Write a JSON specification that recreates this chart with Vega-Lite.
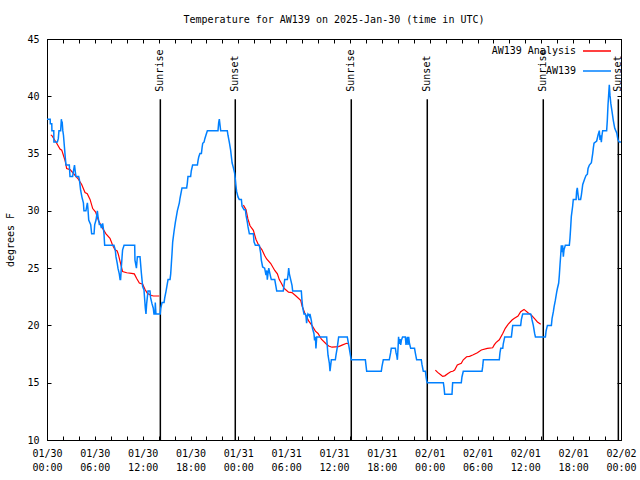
{
  "$schema": "https://vega.github.io/schema/vega-lite/v6.json",
  "width": 574,
  "height": 401,
  "autosize": {"type": "none"},
  "padding": {"left": 47, "top": 39, "right": 19, "bottom": 40},
  "background": "white",
  "title": {"text": "Temperature for AW139 on 2025-Jan-30 (time in UTC)", "font": "DejaVu Sans Mono", "fontSize": 10, "fontWeight": "normal", "color": "black", "anchor": "middle", "baseline": "bottom", "offset": -1},
  "config": {
    "view": {"stroke": "black", "strokeWidth": 1},
    "font": "DejaVu Sans Mono",
    "axis": {"grid": false, "domainColor": "black", "tickColor": "black", "labelColor": "black", "titleColor": "black", "labelFont": "DejaVu Sans Mono", "labelFontSize": 10, "titleFont": "DejaVu Sans Mono", "titleFontSize": 10, "titleFontWeight": "normal", "tickSize": -4, "tickWidth": 1, "domainWidth": 1}
  },
  "datasets": {
    "sun": [
      {"time": "2025-01-30T14:13:00Z", "event": "Sunrise"},
      {"time": "2025-01-30T23:37:00Z", "event": "Sunset"},
      {"time": "2025-01-31T14:10:00Z", "event": "Sunrise"},
      {"time": "2025-01-31T23:42:00Z", "event": "Sunset"},
      {"time": "2025-02-01T14:15:00Z", "event": "Sunrise"},
      {"time": "2025-02-01T23:40:00Z", "event": "Sunset"}
    ],
    "ticks2h": [
      {"time": "2025-01-30T00:00:00Z"}
    ],
    "analysis": [
      {"time": "2025-01-30T00:28:00Z", "temp": 36.6, "seg": 1},
      {"time": "2025-01-30T00:35:00Z", "temp": 36.6, "seg": 1},
      {"time": "2025-01-30T01:13:00Z", "temp": 35.9, "seg": 1},
      {"time": "2025-01-30T01:38:00Z", "temp": 35.4, "seg": 1},
      {"time": "2025-01-30T01:51:00Z", "temp": 35.3, "seg": 1},
      {"time": "2025-01-30T02:16:00Z", "temp": 34.4, "seg": 1},
      {"time": "2025-01-30T02:28:00Z", "temp": 33.7, "seg": 1},
      {"time": "2025-01-30T02:54:00Z", "temp": 33.6, "seg": 1},
      {"time": "2025-01-30T03:31:00Z", "temp": 33.1, "seg": 1},
      {"time": "2025-01-30T03:54:00Z", "temp": 32.8, "seg": 1},
      {"time": "2025-01-30T04:21:00Z", "temp": 32.3, "seg": 1},
      {"time": "2025-01-30T04:46:00Z", "temp": 31.6, "seg": 1},
      {"time": "2025-01-30T05:03:00Z", "temp": 31.5, "seg": 1},
      {"time": "2025-01-30T05:24:00Z", "temp": 31.0, "seg": 1},
      {"time": "2025-01-30T05:44:00Z", "temp": 30.2, "seg": 1},
      {"time": "2025-01-30T06:06:00Z", "temp": 29.9, "seg": 1},
      {"time": "2025-01-30T06:26:00Z", "temp": 29.2, "seg": 1},
      {"time": "2025-01-30T06:52:00Z", "temp": 28.6, "seg": 1},
      {"time": "2025-01-30T07:24:00Z", "temp": 28.0, "seg": 1},
      {"time": "2025-01-30T07:54:00Z", "temp": 27.6, "seg": 1},
      {"time": "2025-01-30T08:14:00Z", "temp": 27.0, "seg": 1},
      {"time": "2025-01-30T08:32:00Z", "temp": 26.6, "seg": 1},
      {"time": "2025-01-30T08:48:00Z", "temp": 26.5, "seg": 1},
      {"time": "2025-01-30T08:57:00Z", "temp": 26.2, "seg": 1},
      {"time": "2025-01-30T09:14:00Z", "temp": 25.4, "seg": 1},
      {"time": "2025-01-30T09:29:00Z", "temp": 24.7, "seg": 1},
      {"time": "2025-01-30T10:00:00Z", "temp": 24.6, "seg": 1},
      {"time": "2025-01-30T10:36:00Z", "temp": 24.55, "seg": 1},
      {"time": "2025-01-30T10:57:00Z", "temp": 24.5, "seg": 1},
      {"time": "2025-01-30T11:15:00Z", "temp": 24.1, "seg": 1},
      {"time": "2025-01-30T11:35:00Z", "temp": 23.7, "seg": 1},
      {"time": "2025-01-30T12:00:00Z", "temp": 23.6, "seg": 1},
      {"time": "2025-01-30T12:17:00Z", "temp": 23.15, "seg": 1},
      {"time": "2025-01-30T12:35:00Z", "temp": 22.8, "seg": 1},
      {"time": "2025-01-30T12:57:00Z", "temp": 22.65, "seg": 1},
      {"time": "2025-01-30T13:20:00Z", "temp": 22.57, "seg": 1},
      {"time": "2025-01-30T14:05:00Z", "temp": 22.57, "seg": 1},
      {"time": "2025-01-31T00:38:00Z", "temp": 30.5, "seg": 2},
      {"time": "2025-01-31T00:58:00Z", "temp": 30.1, "seg": 2},
      {"time": "2025-01-31T01:12:00Z", "temp": 29.3, "seg": 2},
      {"time": "2025-01-31T01:28:00Z", "temp": 28.7, "seg": 2},
      {"time": "2025-01-31T01:53:00Z", "temp": 28.3, "seg": 2},
      {"time": "2025-01-31T02:13:00Z", "temp": 27.5, "seg": 2},
      {"time": "2025-01-31T02:33:00Z", "temp": 27.0, "seg": 2},
      {"time": "2025-01-31T02:58:00Z", "temp": 26.6, "seg": 2},
      {"time": "2025-01-31T03:18:00Z", "temp": 26.1, "seg": 2},
      {"time": "2025-01-31T03:33:00Z", "temp": 25.8, "seg": 2},
      {"time": "2025-01-31T04:04:00Z", "temp": 25.4, "seg": 2},
      {"time": "2025-01-31T04:34:00Z", "temp": 24.8, "seg": 2},
      {"time": "2025-01-31T04:54:00Z", "temp": 24.5, "seg": 2},
      {"time": "2025-01-31T05:08:00Z", "temp": 24.0, "seg": 2},
      {"time": "2025-01-31T05:23:00Z", "temp": 23.7, "seg": 2},
      {"time": "2025-01-31T05:44:00Z", "temp": 23.24, "seg": 2},
      {"time": "2025-01-31T06:18:00Z", "temp": 22.9, "seg": 2},
      {"time": "2025-01-31T06:44:00Z", "temp": 22.86, "seg": 2},
      {"time": "2025-01-31T07:14:00Z", "temp": 22.57, "seg": 2},
      {"time": "2025-01-31T07:49:00Z", "temp": 22.2, "seg": 2},
      {"time": "2025-01-31T08:00:00Z", "temp": 21.7, "seg": 2},
      {"time": "2025-01-31T08:19:00Z", "temp": 21.1, "seg": 2},
      {"time": "2025-01-31T08:49:00Z", "temp": 20.4, "seg": 2},
      {"time": "2025-01-31T09:14:00Z", "temp": 20.0, "seg": 2},
      {"time": "2025-01-31T09:40:00Z", "temp": 19.5, "seg": 2},
      {"time": "2025-01-31T10:00:00Z", "temp": 19.3, "seg": 2},
      {"time": "2025-01-31T10:25:00Z", "temp": 18.8, "seg": 2},
      {"time": "2025-01-31T11:00:00Z", "temp": 18.4, "seg": 2},
      {"time": "2025-01-31T11:20:00Z", "temp": 18.2, "seg": 2},
      {"time": "2025-01-31T11:45:00Z", "temp": 18.1, "seg": 2},
      {"time": "2025-01-31T12:35:00Z", "temp": 18.15, "seg": 2},
      {"time": "2025-01-31T13:05:00Z", "temp": 18.3, "seg": 2},
      {"time": "2025-01-31T13:35:00Z", "temp": 18.44, "seg": 2},
      {"time": "2025-01-31T13:50:00Z", "temp": 18.4, "seg": 2},
      {"time": "2025-02-01T00:43:00Z", "temp": 16.1, "seg": 3},
      {"time": "2025-02-01T01:00:00Z", "temp": 15.9, "seg": 3},
      {"time": "2025-02-01T01:23:00Z", "temp": 15.7, "seg": 3},
      {"time": "2025-02-01T01:38:00Z", "temp": 15.55, "seg": 3},
      {"time": "2025-02-01T01:54:00Z", "temp": 15.6, "seg": 3},
      {"time": "2025-02-01T02:18:00Z", "temp": 15.8, "seg": 3},
      {"time": "2025-02-01T02:38:00Z", "temp": 15.96, "seg": 3},
      {"time": "2025-02-01T02:54:00Z", "temp": 16.0, "seg": 3},
      {"time": "2025-02-01T03:08:00Z", "temp": 16.1, "seg": 3},
      {"time": "2025-02-01T03:28:00Z", "temp": 16.55, "seg": 3},
      {"time": "2025-02-01T03:58:00Z", "temp": 16.7, "seg": 3},
      {"time": "2025-02-01T04:13:00Z", "temp": 17.0, "seg": 3},
      {"time": "2025-02-01T04:38:00Z", "temp": 17.27, "seg": 3},
      {"time": "2025-02-01T05:00:00Z", "temp": 17.3, "seg": 3},
      {"time": "2025-02-01T05:24:00Z", "temp": 17.42, "seg": 3},
      {"time": "2025-02-01T05:59:00Z", "temp": 17.62, "seg": 3},
      {"time": "2025-02-01T06:29:00Z", "temp": 17.86, "seg": 3},
      {"time": "2025-02-01T07:14:00Z", "temp": 18.0, "seg": 3},
      {"time": "2025-02-01T07:54:00Z", "temp": 18.05, "seg": 3},
      {"time": "2025-02-01T08:06:00Z", "temp": 18.3, "seg": 3},
      {"time": "2025-02-01T08:19:00Z", "temp": 18.5, "seg": 3},
      {"time": "2025-02-01T08:44:00Z", "temp": 18.75, "seg": 3},
      {"time": "2025-02-01T09:10:00Z", "temp": 19.3, "seg": 3},
      {"time": "2025-02-01T09:29:00Z", "temp": 19.75, "seg": 3},
      {"time": "2025-02-01T09:50:00Z", "temp": 20.1, "seg": 3},
      {"time": "2025-02-01T10:20:00Z", "temp": 20.47, "seg": 3},
      {"time": "2025-02-01T10:35:00Z", "temp": 20.6, "seg": 3},
      {"time": "2025-02-01T11:05:00Z", "temp": 20.82, "seg": 3},
      {"time": "2025-02-01T11:25:00Z", "temp": 21.2, "seg": 3},
      {"time": "2025-02-01T11:50:00Z", "temp": 21.4, "seg": 3},
      {"time": "2025-02-01T12:20:00Z", "temp": 21.1, "seg": 3},
      {"time": "2025-02-01T12:46:00Z", "temp": 20.9, "seg": 3},
      {"time": "2025-02-01T13:16:00Z", "temp": 20.5, "seg": 3},
      {"time": "2025-02-01T13:31:00Z", "temp": 20.3, "seg": 3},
      {"time": "2025-02-01T13:56:00Z", "temp": 20.1, "seg": 3}
    ],
    "observed": [
      {"time": "2025-01-30T00:00:00Z", "temp": 38},
      {"time": "2025-01-30T00:24:00Z", "temp": 38},
      {"time": "2025-01-30T00:25:00Z", "temp": 37.6},
      {"time": "2025-01-30T00:36:00Z", "temp": 37.6},
      {"time": "2025-01-30T00:37:00Z", "temp": 37},
      {"time": "2025-01-30T00:51:00Z", "temp": 37},
      {"time": "2025-01-30T00:52:00Z", "temp": 36},
      {"time": "2025-01-30T01:18:00Z", "temp": 36},
      {"time": "2025-01-30T01:25:00Z", "temp": 36.3},
      {"time": "2025-01-30T01:30:00Z", "temp": 37},
      {"time": "2025-01-30T01:43:00Z", "temp": 37},
      {"time": "2025-01-30T01:48:00Z", "temp": 38},
      {"time": "2025-01-30T01:52:00Z", "temp": 37.6},
      {"time": "2025-01-30T01:54:00Z", "temp": 37.8},
      {"time": "2025-01-30T01:59:00Z", "temp": 37},
      {"time": "2025-01-30T02:04:00Z", "temp": 36.6},
      {"time": "2025-01-30T02:11:00Z", "temp": 35.6},
      {"time": "2025-01-30T02:18:00Z", "temp": 34.6},
      {"time": "2025-01-30T02:23:00Z", "temp": 34},
      {"time": "2025-01-30T02:48:00Z", "temp": 34},
      {"time": "2025-01-30T02:53:00Z", "temp": 33},
      {"time": "2025-01-30T03:13:00Z", "temp": 33},
      {"time": "2025-01-30T03:18:00Z", "temp": 33.4},
      {"time": "2025-01-30T03:27:00Z", "temp": 34},
      {"time": "2025-01-30T03:33:00Z", "temp": 33.4},
      {"time": "2025-01-30T03:38:00Z", "temp": 33},
      {"time": "2025-01-30T03:58:00Z", "temp": 33},
      {"time": "2025-01-30T04:04:00Z", "temp": 32.7},
      {"time": "2025-01-30T04:13:00Z", "temp": 31.8},
      {"time": "2025-01-30T04:23:00Z", "temp": 31.2},
      {"time": "2025-01-30T04:34:00Z", "temp": 30.7},
      {"time": "2025-01-30T04:38:00Z", "temp": 30},
      {"time": "2025-01-30T04:53:00Z", "temp": 30},
      {"time": "2025-01-30T04:59:00Z", "temp": 30.4},
      {"time": "2025-01-30T05:04:00Z", "temp": 30.7},
      {"time": "2025-01-30T05:08:00Z", "temp": 30.2},
      {"time": "2025-01-30T05:14:00Z", "temp": 29.2},
      {"time": "2025-01-30T05:29:00Z", "temp": 28.8},
      {"time": "2025-01-30T05:36:00Z", "temp": 28},
      {"time": "2025-01-30T05:54:00Z", "temp": 28},
      {"time": "2025-01-30T05:59:00Z", "temp": 28.8},
      {"time": "2025-01-30T06:09:00Z", "temp": 29.2},
      {"time": "2025-01-30T06:19:00Z", "temp": 30},
      {"time": "2025-01-30T06:24:00Z", "temp": 29.5},
      {"time": "2025-01-30T06:34:00Z", "temp": 28.8},
      {"time": "2025-01-30T06:44:00Z", "temp": 28.8},
      {"time": "2025-01-30T06:49:00Z", "temp": 28.5},
      {"time": "2025-01-30T06:59:00Z", "temp": 28.9},
      {"time": "2025-01-30T07:06:00Z", "temp": 28.3},
      {"time": "2025-01-30T07:09:00Z", "temp": 28},
      {"time": "2025-01-30T07:14:00Z", "temp": 27},
      {"time": "2025-01-30T08:24:00Z", "temp": 27},
      {"time": "2025-01-30T08:34:00Z", "temp": 26.6},
      {"time": "2025-01-30T08:39:00Z", "temp": 26},
      {"time": "2025-01-30T08:49:00Z", "temp": 25.4},
      {"time": "2025-01-30T08:54:00Z", "temp": 25},
      {"time": "2025-01-30T09:04:00Z", "temp": 24.5},
      {"time": "2025-01-30T09:10:00Z", "temp": 24},
      {"time": "2025-01-30T09:14:00Z", "temp": 24},
      {"time": "2025-01-30T09:19:00Z", "temp": 25},
      {"time": "2025-01-30T09:25:00Z", "temp": 26},
      {"time": "2025-01-30T09:29:00Z", "temp": 26.6},
      {"time": "2025-01-30T09:40:00Z", "temp": 27},
      {"time": "2025-01-30T11:00:00Z", "temp": 27},
      {"time": "2025-01-30T11:02:00Z", "temp": 25.7},
      {"time": "2025-01-30T11:13:00Z", "temp": 25},
      {"time": "2025-01-30T11:20:00Z", "temp": 26},
      {"time": "2025-01-30T11:40:00Z", "temp": 26},
      {"time": "2025-01-30T11:50:00Z", "temp": 24.6},
      {"time": "2025-01-30T12:00:00Z", "temp": 23.4},
      {"time": "2025-01-30T12:10:00Z", "temp": 23.1},
      {"time": "2025-01-30T12:20:00Z", "temp": 21.5},
      {"time": "2025-01-30T12:25:00Z", "temp": 21},
      {"time": "2025-01-30T12:30:00Z", "temp": 21.9},
      {"time": "2025-01-30T12:40:00Z", "temp": 23},
      {"time": "2025-01-30T12:55:00Z", "temp": 23},
      {"time": "2025-01-30T13:00:00Z", "temp": 22.4},
      {"time": "2025-01-30T13:10:00Z", "temp": 21.9},
      {"time": "2025-01-30T13:20:00Z", "temp": 21.5},
      {"time": "2025-01-30T13:25:00Z", "temp": 21},
      {"time": "2025-01-30T13:33:00Z", "temp": 21},
      {"time": "2025-01-30T13:35:00Z", "temp": 22},
      {"time": "2025-01-30T13:40:00Z", "temp": 21},
      {"time": "2025-01-30T14:12:00Z", "temp": 21},
      {"time": "2025-01-30T14:16:00Z", "temp": 21.5},
      {"time": "2025-01-30T14:26:00Z", "temp": 22},
      {"time": "2025-01-30T14:41:00Z", "temp": 22},
      {"time": "2025-01-30T14:46:00Z", "temp": 22.4},
      {"time": "2025-01-30T14:56:00Z", "temp": 23},
      {"time": "2025-01-30T15:05:00Z", "temp": 23.6},
      {"time": "2025-01-30T15:11:00Z", "temp": 24},
      {"time": "2025-01-30T15:26:00Z", "temp": 24},
      {"time": "2025-01-30T15:31:00Z", "temp": 24.5},
      {"time": "2025-01-30T15:36:00Z", "temp": 25.4},
      {"time": "2025-01-30T15:41:00Z", "temp": 26.3},
      {"time": "2025-01-30T15:46:00Z", "temp": 27.3},
      {"time": "2025-01-30T15:56:00Z", "temp": 28.2},
      {"time": "2025-01-30T16:06:00Z", "temp": 29},
      {"time": "2025-01-30T16:21:00Z", "temp": 30},
      {"time": "2025-01-30T16:36:00Z", "temp": 30.7},
      {"time": "2025-01-30T16:41:00Z", "temp": 31.1},
      {"time": "2025-01-30T16:51:00Z", "temp": 31.7},
      {"time": "2025-01-30T16:56:00Z", "temp": 32},
      {"time": "2025-01-30T17:31:00Z", "temp": 32},
      {"time": "2025-01-30T17:36:00Z", "temp": 32.4},
      {"time": "2025-01-30T17:41:00Z", "temp": 33},
      {"time": "2025-01-30T18:01:00Z", "temp": 33},
      {"time": "2025-01-30T18:06:00Z", "temp": 33.5},
      {"time": "2025-01-30T18:16:00Z", "temp": 34},
      {"time": "2025-01-30T18:52:00Z", "temp": 34},
      {"time": "2025-01-30T18:57:00Z", "temp": 34.4},
      {"time": "2025-01-30T19:02:00Z", "temp": 34.7},
      {"time": "2025-01-30T19:11:00Z", "temp": 35},
      {"time": "2025-01-30T19:22:00Z", "temp": 35},
      {"time": "2025-01-30T19:27:00Z", "temp": 35.5},
      {"time": "2025-01-30T19:32:00Z", "temp": 35.9},
      {"time": "2025-01-30T19:42:00Z", "temp": 36},
      {"time": "2025-01-30T19:48:00Z", "temp": 36.3},
      {"time": "2025-01-30T19:56:00Z", "temp": 36.6},
      {"time": "2025-01-30T20:07:00Z", "temp": 37},
      {"time": "2025-01-30T21:27:00Z", "temp": 37},
      {"time": "2025-01-30T21:32:00Z", "temp": 37.7},
      {"time": "2025-01-30T21:37:00Z", "temp": 38},
      {"time": "2025-01-30T21:42:00Z", "temp": 37.5},
      {"time": "2025-01-30T21:47:00Z", "temp": 37},
      {"time": "2025-01-30T22:37:00Z", "temp": 37},
      {"time": "2025-01-30T22:42:00Z", "temp": 36.6},
      {"time": "2025-01-30T22:52:00Z", "temp": 36},
      {"time": "2025-01-30T23:02:00Z", "temp": 35.3},
      {"time": "2025-01-30T23:13:00Z", "temp": 34.2},
      {"time": "2025-01-30T23:22:00Z", "temp": 33.8},
      {"time": "2025-01-30T23:32:00Z", "temp": 33.3},
      {"time": "2025-01-30T23:37:00Z", "temp": 32.8},
      {"time": "2025-01-30T23:42:00Z", "temp": 32.2},
      {"time": "2025-01-30T23:47:00Z", "temp": 31.7},
      {"time": "2025-01-30T23:58:00Z", "temp": 31.2},
      {"time": "2025-01-31T00:07:00Z", "temp": 31},
      {"time": "2025-01-31T00:23:00Z", "temp": 31},
      {"time": "2025-01-31T00:28:00Z", "temp": 30.4},
      {"time": "2025-01-31T00:43:00Z", "temp": 30.1},
      {"time": "2025-01-31T00:53:00Z", "temp": 30.1},
      {"time": "2025-01-31T00:58:00Z", "temp": 29.6},
      {"time": "2025-01-31T01:08:00Z", "temp": 29},
      {"time": "2025-01-31T01:13:00Z", "temp": 28.6},
      {"time": "2025-01-31T01:23:00Z", "temp": 28},
      {"time": "2025-01-31T01:53:00Z", "temp": 28},
      {"time": "2025-01-31T01:58:00Z", "temp": 27.3},
      {"time": "2025-01-31T02:08:00Z", "temp": 27},
      {"time": "2025-01-31T02:38:00Z", "temp": 27},
      {"time": "2025-01-31T02:48:00Z", "temp": 26.3},
      {"time": "2025-01-31T02:53:00Z", "temp": 25.7},
      {"time": "2025-01-31T03:03:00Z", "temp": 25.1},
      {"time": "2025-01-31T03:18:00Z", "temp": 25},
      {"time": "2025-01-31T03:28:00Z", "temp": 24.4},
      {"time": "2025-01-31T03:34:00Z", "temp": 24.8},
      {"time": "2025-01-31T03:38:00Z", "temp": 24},
      {"time": "2025-01-31T03:43:00Z", "temp": 24.5},
      {"time": "2025-01-31T03:49:00Z", "temp": 25},
      {"time": "2025-01-31T03:58:00Z", "temp": 24.5},
      {"time": "2025-01-31T04:08:00Z", "temp": 24},
      {"time": "2025-01-31T04:34:00Z", "temp": 24},
      {"time": "2025-01-31T04:43:00Z", "temp": 23.4},
      {"time": "2025-01-31T04:49:00Z", "temp": 23},
      {"time": "2025-01-31T05:38:00Z", "temp": 23},
      {"time": "2025-01-31T05:44:00Z", "temp": 23.5},
      {"time": "2025-01-31T05:49:00Z", "temp": 24},
      {"time": "2025-01-31T06:09:00Z", "temp": 24},
      {"time": "2025-01-31T06:14:00Z", "temp": 24.4},
      {"time": "2025-01-31T06:19:00Z", "temp": 25},
      {"time": "2025-01-31T06:24:00Z", "temp": 24.5},
      {"time": "2025-01-31T06:34:00Z", "temp": 24},
      {"time": "2025-01-31T06:44:00Z", "temp": 23.5},
      {"time": "2025-01-31T06:49:00Z", "temp": 23},
      {"time": "2025-01-31T07:54:00Z", "temp": 23},
      {"time": "2025-01-31T07:59:00Z", "temp": 22.2},
      {"time": "2025-01-31T08:04:00Z", "temp": 21.6},
      {"time": "2025-01-31T08:14:00Z", "temp": 21},
      {"time": "2025-01-31T08:24:00Z", "temp": 21},
      {"time": "2025-01-31T08:29:00Z", "temp": 20.8},
      {"time": "2025-01-31T08:34:00Z", "temp": 20.2},
      {"time": "2025-01-31T08:39:00Z", "temp": 20.8},
      {"time": "2025-01-31T08:44:00Z", "temp": 21},
      {"time": "2025-01-31T08:55:00Z", "temp": 20.8},
      {"time": "2025-01-31T08:59:00Z", "temp": 21},
      {"time": "2025-01-31T09:10:00Z", "temp": 20.4},
      {"time": "2025-01-31T09:14:00Z", "temp": 20},
      {"time": "2025-01-31T09:19:00Z", "temp": 19.7},
      {"time": "2025-01-31T09:29:00Z", "temp": 19.3},
      {"time": "2025-01-31T09:34:00Z", "temp": 18.7},
      {"time": "2025-01-31T09:40:00Z", "temp": 19},
      {"time": "2025-01-31T09:44:00Z", "temp": 18},
      {"time": "2025-01-31T09:50:00Z", "temp": 19},
      {"time": "2025-01-31T11:05:00Z", "temp": 19},
      {"time": "2025-01-31T11:10:00Z", "temp": 18.1},
      {"time": "2025-01-31T11:15:00Z", "temp": 17.4},
      {"time": "2025-01-31T11:25:00Z", "temp": 16.7},
      {"time": "2025-01-31T11:30:00Z", "temp": 16},
      {"time": "2025-01-31T11:35:00Z", "temp": 16.5},
      {"time": "2025-01-31T11:40:00Z", "temp": 17},
      {"time": "2025-01-31T12:10:00Z", "temp": 17},
      {"time": "2025-01-31T12:15:00Z", "temp": 17.4},
      {"time": "2025-01-31T12:25:00Z", "temp": 18.1},
      {"time": "2025-01-31T12:35:00Z", "temp": 19},
      {"time": "2025-01-31T13:40:00Z", "temp": 19},
      {"time": "2025-01-31T13:46:00Z", "temp": 18.6},
      {"time": "2025-01-31T13:55:00Z", "temp": 18},
      {"time": "2025-01-31T14:05:00Z", "temp": 17.3},
      {"time": "2025-01-31T14:10:00Z", "temp": 17},
      {"time": "2025-01-31T15:56:00Z", "temp": 17},
      {"time": "2025-01-31T16:06:00Z", "temp": 16},
      {"time": "2025-01-31T17:56:00Z", "temp": 16},
      {"time": "2025-01-31T18:01:00Z", "temp": 16.4},
      {"time": "2025-01-31T18:11:00Z", "temp": 17},
      {"time": "2025-01-31T18:56:00Z", "temp": 17},
      {"time": "2025-01-31T19:06:00Z", "temp": 17.6},
      {"time": "2025-01-31T19:11:00Z", "temp": 18},
      {"time": "2025-01-31T19:42:00Z", "temp": 18},
      {"time": "2025-01-31T19:47:00Z", "temp": 17.6},
      {"time": "2025-01-31T19:52:00Z", "temp": 17.4},
      {"time": "2025-01-31T19:57:00Z", "temp": 17},
      {"time": "2025-01-31T20:02:00Z", "temp": 18},
      {"time": "2025-01-31T20:06:00Z", "temp": 19},
      {"time": "2025-01-31T20:11:00Z", "temp": 18.4},
      {"time": "2025-01-31T20:17:00Z", "temp": 18.8},
      {"time": "2025-01-31T20:22:00Z", "temp": 18.3},
      {"time": "2025-01-31T20:27:00Z", "temp": 18.7},
      {"time": "2025-01-31T20:36:00Z", "temp": 19},
      {"time": "2025-01-31T20:57:00Z", "temp": 19},
      {"time": "2025-01-31T21:02:00Z", "temp": 18.3},
      {"time": "2025-01-31T21:07:00Z", "temp": 18.7},
      {"time": "2025-01-31T21:12:00Z", "temp": 19},
      {"time": "2025-01-31T21:17:00Z", "temp": 18.3},
      {"time": "2025-01-31T21:22:00Z", "temp": 19},
      {"time": "2025-01-31T21:27:00Z", "temp": 18.5},
      {"time": "2025-01-31T21:37:00Z", "temp": 18},
      {"time": "2025-01-31T22:06:00Z", "temp": 18},
      {"time": "2025-01-31T22:12:00Z", "temp": 17.6},
      {"time": "2025-01-31T22:22:00Z", "temp": 17},
      {"time": "2025-01-31T22:57:00Z", "temp": 17},
      {"time": "2025-01-31T23:02:00Z", "temp": 16.6},
      {"time": "2025-01-31T23:12:00Z", "temp": 16},
      {"time": "2025-01-31T23:28:00Z", "temp": 16},
      {"time": "2025-01-31T23:32:00Z", "temp": 15.6},
      {"time": "2025-01-31T23:37:00Z", "temp": 15.2},
      {"time": "2025-01-31T23:42:00Z", "temp": 15},
      {"time": "2025-02-01T01:43:00Z", "temp": 15},
      {"time": "2025-02-01T01:48:00Z", "temp": 14.6},
      {"time": "2025-02-01T01:53:00Z", "temp": 14},
      {"time": "2025-02-01T02:48:00Z", "temp": 14},
      {"time": "2025-02-01T02:53:00Z", "temp": 15},
      {"time": "2025-02-01T03:58:00Z", "temp": 15},
      {"time": "2025-02-01T04:03:00Z", "temp": 15.5},
      {"time": "2025-02-01T04:13:00Z", "temp": 16},
      {"time": "2025-02-01T06:34:00Z", "temp": 16},
      {"time": "2025-02-01T06:39:00Z", "temp": 16.4},
      {"time": "2025-02-01T06:44:00Z", "temp": 17},
      {"time": "2025-02-01T08:44:00Z", "temp": 17},
      {"time": "2025-02-01T08:49:00Z", "temp": 17.6},
      {"time": "2025-02-01T08:55:00Z", "temp": 18},
      {"time": "2025-02-01T09:10:00Z", "temp": 18},
      {"time": "2025-02-01T09:14:00Z", "temp": 18.4},
      {"time": "2025-02-01T09:25:00Z", "temp": 19},
      {"time": "2025-02-01T10:15:00Z", "temp": 19},
      {"time": "2025-02-01T10:20:00Z", "temp": 19.5},
      {"time": "2025-02-01T10:25:00Z", "temp": 20},
      {"time": "2025-02-01T11:25:00Z", "temp": 20},
      {"time": "2025-02-01T11:30:00Z", "temp": 20.5},
      {"time": "2025-02-01T11:40:00Z", "temp": 21},
      {"time": "2025-02-01T12:40:00Z", "temp": 21},
      {"time": "2025-02-01T12:46:00Z", "temp": 20.8},
      {"time": "2025-02-01T12:50:00Z", "temp": 20.5},
      {"time": "2025-02-01T13:00:00Z", "temp": 20},
      {"time": "2025-02-01T13:10:00Z", "temp": 19.3},
      {"time": "2025-02-01T13:16:00Z", "temp": 19},
      {"time": "2025-02-01T14:31:00Z", "temp": 19},
      {"time": "2025-02-01T14:36:00Z", "temp": 19.5},
      {"time": "2025-02-01T14:46:00Z", "temp": 20},
      {"time": "2025-02-01T15:16:00Z", "temp": 20},
      {"time": "2025-02-01T15:21:00Z", "temp": 20.6},
      {"time": "2025-02-01T15:31:00Z", "temp": 21.2},
      {"time": "2025-02-01T15:36:00Z", "temp": 21.6},
      {"time": "2025-02-01T15:46:00Z", "temp": 22.2},
      {"time": "2025-02-01T15:56:00Z", "temp": 22.9},
      {"time": "2025-02-01T16:01:00Z", "temp": 23.2},
      {"time": "2025-02-01T16:11:00Z", "temp": 23.7},
      {"time": "2025-02-01T16:16:00Z", "temp": 24.4},
      {"time": "2025-02-01T16:21:00Z", "temp": 25.3},
      {"time": "2025-02-01T16:26:00Z", "temp": 26.1},
      {"time": "2025-02-01T16:31:00Z", "temp": 27},
      {"time": "2025-02-01T16:36:00Z", "temp": 26.4},
      {"time": "2025-02-01T16:41:00Z", "temp": 27},
      {"time": "2025-02-01T16:46:00Z", "temp": 26},
      {"time": "2025-02-01T16:51:00Z", "temp": 26.6},
      {"time": "2025-02-01T17:01:00Z", "temp": 27},
      {"time": "2025-02-01T17:31:00Z", "temp": 27},
      {"time": "2025-02-01T17:36:00Z", "temp": 27.6},
      {"time": "2025-02-01T17:41:00Z", "temp": 28.5},
      {"time": "2025-02-01T17:46:00Z", "temp": 29.5},
      {"time": "2025-02-01T17:56:00Z", "temp": 30.4},
      {"time": "2025-02-01T18:01:00Z", "temp": 31},
      {"time": "2025-02-01T18:22:00Z", "temp": 31},
      {"time": "2025-02-01T18:26:00Z", "temp": 31.7},
      {"time": "2025-02-01T18:31:00Z", "temp": 32},
      {"time": "2025-02-01T18:37:00Z", "temp": 31.4},
      {"time": "2025-02-01T18:42:00Z", "temp": 31},
      {"time": "2025-02-01T18:56:00Z", "temp": 31},
      {"time": "2025-02-01T19:02:00Z", "temp": 31.4},
      {"time": "2025-02-01T19:12:00Z", "temp": 32.3},
      {"time": "2025-02-01T19:27:00Z", "temp": 32.8},
      {"time": "2025-02-01T19:37:00Z", "temp": 33.1},
      {"time": "2025-02-01T19:47:00Z", "temp": 33.2},
      {"time": "2025-02-01T19:52:00Z", "temp": 33.7},
      {"time": "2025-02-01T20:02:00Z", "temp": 34},
      {"time": "2025-02-01T20:17:00Z", "temp": 34.2},
      {"time": "2025-02-01T20:22:00Z", "temp": 34.6},
      {"time": "2025-02-01T20:27:00Z", "temp": 35},
      {"time": "2025-02-01T20:32:00Z", "temp": 35.5},
      {"time": "2025-02-01T20:37:00Z", "temp": 35.9},
      {"time": "2025-02-01T20:57:00Z", "temp": 36.1},
      {"time": "2025-02-01T21:07:00Z", "temp": 36.6},
      {"time": "2025-02-01T21:17:00Z", "temp": 37},
      {"time": "2025-02-01T21:22:00Z", "temp": 36.2},
      {"time": "2025-02-01T21:27:00Z", "temp": 36.6},
      {"time": "2025-02-01T21:32:00Z", "temp": 36},
      {"time": "2025-02-01T21:37:00Z", "temp": 36.6},
      {"time": "2025-02-01T21:42:00Z", "temp": 37},
      {"time": "2025-02-01T22:12:00Z", "temp": 37},
      {"time": "2025-02-01T22:17:00Z", "temp": 37.9},
      {"time": "2025-02-01T22:22:00Z", "temp": 39.2},
      {"time": "2025-02-01T22:27:00Z", "temp": 40.1},
      {"time": "2025-02-01T22:32:00Z", "temp": 41},
      {"time": "2025-02-01T22:37:00Z", "temp": 40.1},
      {"time": "2025-02-01T22:43:00Z", "temp": 39.4},
      {"time": "2025-02-01T22:52:00Z", "temp": 38.7},
      {"time": "2025-02-01T23:02:00Z", "temp": 37.9},
      {"time": "2025-02-01T23:13:00Z", "temp": 37.2},
      {"time": "2025-02-01T23:28:00Z", "temp": 36.8},
      {"time": "2025-02-01T23:37:00Z", "temp": 36.2},
      {"time": "2025-02-01T23:47:00Z", "temp": 36},
      {"time": "2025-02-02T00:00:00Z", "temp": 36}
    ]
  },
  "layer": [
    {
      "data": {"name": "sun"},
      "mark": {"type": "rule", "color": "black", "strokeWidth": 1.5},
      "encoding": {
        "x": {"field": "time", "type": "temporal", "scale": {"type": "utc", "domain": [{"year": 2025, "month": 1, "date": 30, "utc": true}, {"year": 2025, "month": 2, "date": 2, "utc": true}]}, "axis": {"title": null, "tickCount": 40, "values": [
          {"year": 2025, "month": 1, "date": 30, "hours": 0, "utc": true},
          {"year": 2025, "month": 1, "date": 30, "hours": 2, "utc": true},
          {"year": 2025, "month": 1, "date": 30, "hours": 4, "utc": true},
          {"year": 2025, "month": 1, "date": 30, "hours": 6, "utc": true},
          {"year": 2025, "month": 1, "date": 30, "hours": 8, "utc": true},
          {"year": 2025, "month": 1, "date": 30, "hours": 10, "utc": true},
          {"year": 2025, "month": 1, "date": 30, "hours": 12, "utc": true},
          {"year": 2025, "month": 1, "date": 30, "hours": 14, "utc": true},
          {"year": 2025, "month": 1, "date": 30, "hours": 16, "utc": true},
          {"year": 2025, "month": 1, "date": 30, "hours": 18, "utc": true},
          {"year": 2025, "month": 1, "date": 30, "hours": 20, "utc": true},
          {"year": 2025, "month": 1, "date": 30, "hours": 22, "utc": true},
          {"year": 2025, "month": 1, "date": 31, "hours": 0, "utc": true},
          {"year": 2025, "month": 1, "date": 31, "hours": 2, "utc": true},
          {"year": 2025, "month": 1, "date": 31, "hours": 4, "utc": true},
          {"year": 2025, "month": 1, "date": 31, "hours": 6, "utc": true},
          {"year": 2025, "month": 1, "date": 31, "hours": 8, "utc": true},
          {"year": 2025, "month": 1, "date": 31, "hours": 10, "utc": true},
          {"year": 2025, "month": 1, "date": 31, "hours": 12, "utc": true},
          {"year": 2025, "month": 1, "date": 31, "hours": 14, "utc": true},
          {"year": 2025, "month": 1, "date": 31, "hours": 16, "utc": true},
          {"year": 2025, "month": 1, "date": 31, "hours": 18, "utc": true},
          {"year": 2025, "month": 1, "date": 31, "hours": 20, "utc": true},
          {"year": 2025, "month": 1, "date": 31, "hours": 22, "utc": true},
          {"year": 2025, "month": 2, "date": 1, "hours": 0, "utc": true},
          {"year": 2025, "month": 2, "date": 1, "hours": 2, "utc": true},
          {"year": 2025, "month": 2, "date": 1, "hours": 4, "utc": true},
          {"year": 2025, "month": 2, "date": 1, "hours": 6, "utc": true},
          {"year": 2025, "month": 2, "date": 1, "hours": 8, "utc": true},
          {"year": 2025, "month": 2, "date": 1, "hours": 10, "utc": true},
          {"year": 2025, "month": 2, "date": 1, "hours": 12, "utc": true},
          {"year": 2025, "month": 2, "date": 1, "hours": 14, "utc": true},
          {"year": 2025, "month": 2, "date": 1, "hours": 16, "utc": true},
          {"year": 2025, "month": 2, "date": 1, "hours": 18, "utc": true},
          {"year": 2025, "month": 2, "date": 1, "hours": 20, "utc": true},
          {"year": 2025, "month": 2, "date": 1, "hours": 22, "utc": true},
          {"year": 2025, "month": 2, "date": 2, "hours": 0, "utc": true}
        ], "labelExpr": "utchours(datum.value) % 6 == 0 ? [utcFormat(datum.value, '%m/%d'), utcFormat(datum.value, '%H:%M')] : ''", "labelPadding": 12, "labelFlush": false, "labelOverlap": false, "labelBaseline": "top", "labelLineHeight": 14}},
        "y": {"datum": 39.75, "type": "quantitative", "scale": {"domain": [10, 45], "nice": false, "zero": false}, "axis": {"title": "degrees F", "values": [10, 15, 20, 25, 30, 35, 40, 45], "labelPadding": 12, "titlePadding": 11}},
        "y2": {"datum": 10}
      }
    },
    {
      "data": {"name": "sun"},
      "mark": {"type": "text", "angle": 270, "align": "left", "baseline": "middle", "fontSize": 10, "color": "black"},
      "encoding": {
        "x": {"field": "time", "type": "temporal", "axis": null},
        "y": {"datum": 40.4, "type": "quantitative", "axis": null},
        "text": {"field": "event", "type": "nominal"}
      }
    },
    {
      "data": {"name": "analysis"},
      "mark": {"type": "line", "strokeWidth": 1.2},
      "encoding": {
        "x": {"field": "time", "type": "temporal", "axis": null},
        "y": {"field": "temp", "type": "quantitative", "axis": null},
        "detail": {"field": "seg", "type": "nominal"},
        "color": {"datum": "AW139 Analysis", "scale": {"domain": ["AW139 Analysis", "AW139"], "range": ["#ff0000", "#0080ff"]}, "legend": {"title": null, "orient": "none", "legendX": 535, "legendY": -3, "padding": 0, "symbolType": "stroke", "symbolSize": 784, "symbolStrokeWidth": 1.5, "labelAlign": "right", "labelOffset": -36, "labelFontSize": 10, "labelColor": "black", "labelLimit": 300, "rowPadding": -18}}
      }
    },
    {
      "data": {"name": "observed"},
      "mark": {"type": "line", "strokeWidth": 1.5},
      "encoding": {
        "x": {"field": "time", "type": "temporal", "axis": {"orient": "top", "title": null, "labels": false, "tickCount": 40, "values": [
          {"year": 2025, "month": 1, "date": 30, "hours": 0, "utc": true},
          {"year": 2025, "month": 1, "date": 30, "hours": 2, "utc": true},
          {"year": 2025, "month": 1, "date": 30, "hours": 4, "utc": true},
          {"year": 2025, "month": 1, "date": 30, "hours": 6, "utc": true},
          {"year": 2025, "month": 1, "date": 30, "hours": 8, "utc": true},
          {"year": 2025, "month": 1, "date": 30, "hours": 10, "utc": true},
          {"year": 2025, "month": 1, "date": 30, "hours": 12, "utc": true},
          {"year": 2025, "month": 1, "date": 30, "hours": 14, "utc": true},
          {"year": 2025, "month": 1, "date": 30, "hours": 16, "utc": true},
          {"year": 2025, "month": 1, "date": 30, "hours": 18, "utc": true},
          {"year": 2025, "month": 1, "date": 30, "hours": 20, "utc": true},
          {"year": 2025, "month": 1, "date": 30, "hours": 22, "utc": true},
          {"year": 2025, "month": 1, "date": 31, "hours": 0, "utc": true},
          {"year": 2025, "month": 1, "date": 31, "hours": 2, "utc": true},
          {"year": 2025, "month": 1, "date": 31, "hours": 4, "utc": true},
          {"year": 2025, "month": 1, "date": 31, "hours": 6, "utc": true},
          {"year": 2025, "month": 1, "date": 31, "hours": 8, "utc": true},
          {"year": 2025, "month": 1, "date": 31, "hours": 10, "utc": true},
          {"year": 2025, "month": 1, "date": 31, "hours": 12, "utc": true},
          {"year": 2025, "month": 1, "date": 31, "hours": 14, "utc": true},
          {"year": 2025, "month": 1, "date": 31, "hours": 16, "utc": true},
          {"year": 2025, "month": 1, "date": 31, "hours": 18, "utc": true},
          {"year": 2025, "month": 1, "date": 31, "hours": 20, "utc": true},
          {"year": 2025, "month": 1, "date": 31, "hours": 22, "utc": true},
          {"year": 2025, "month": 2, "date": 1, "hours": 0, "utc": true},
          {"year": 2025, "month": 2, "date": 1, "hours": 2, "utc": true},
          {"year": 2025, "month": 2, "date": 1, "hours": 4, "utc": true},
          {"year": 2025, "month": 2, "date": 1, "hours": 6, "utc": true},
          {"year": 2025, "month": 2, "date": 1, "hours": 8, "utc": true},
          {"year": 2025, "month": 2, "date": 1, "hours": 10, "utc": true},
          {"year": 2025, "month": 2, "date": 1, "hours": 12, "utc": true},
          {"year": 2025, "month": 2, "date": 1, "hours": 14, "utc": true},
          {"year": 2025, "month": 2, "date": 1, "hours": 16, "utc": true},
          {"year": 2025, "month": 2, "date": 1, "hours": 18, "utc": true},
          {"year": 2025, "month": 2, "date": 1, "hours": 20, "utc": true},
          {"year": 2025, "month": 2, "date": 1, "hours": 22, "utc": true},
          {"year": 2025, "month": 2, "date": 2, "hours": 0, "utc": true}
        ]}},
        "y": {"field": "temp", "type": "quantitative", "axis": {"orient": "right", "title": null, "labels": false, "values": [10, 15, 20, 25, 30, 35, 40, 45]}},
        "color": {"datum": "AW139"}
      }
    }
  ],
  "resolve": {"axis": {"x": "independent", "y": "independent"}}
}
